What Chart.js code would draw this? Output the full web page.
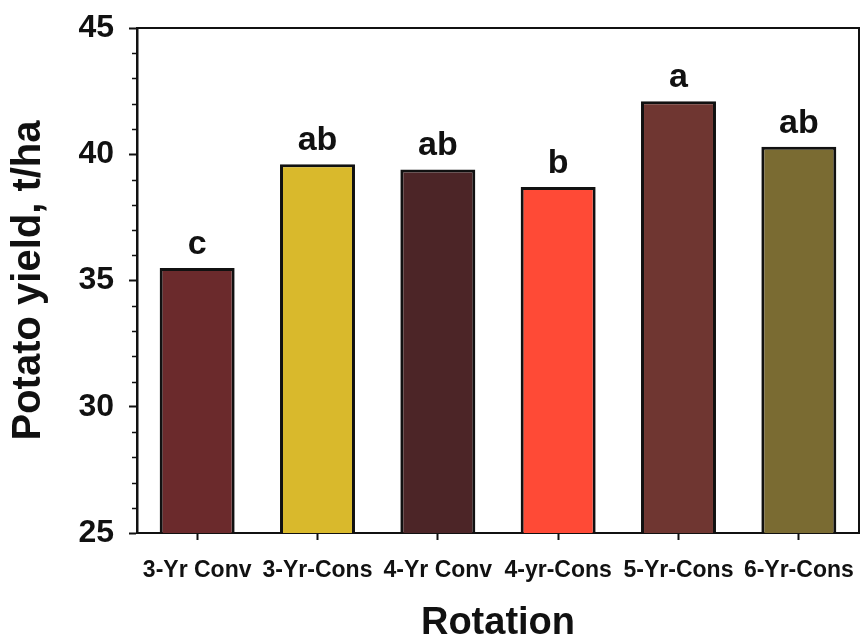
<!DOCTYPE html>
<html>
<head>
<meta charset="utf-8">
<script src="https://cdn.jsdelivr.net/npm/chart.js@4"></script>
<style>
  html, body { margin: 0; padding: 0; background: #ffffff; }
  #wrap { width: 864px; height: 644px; position: relative; }
</style>
</head>
<body>
<div id="wrap"><canvas id="c" width="864" height="644"></canvas></div>
<script>
// Rotation treatments and mean potato yield (t/ha)
const rotations = ['3-Yr Conv', '3-Yr-Cons', '4-Yr Conv', '4-yr-Cons', '5-Yr-Cons', '6-Yr-Cons'];
const yields = [35.5, 39.6, 39.4, 38.7, 42.1, 40.3];
const letters = ['c', 'ab', 'ab', 'b', 'a', 'ab'];
const barColors = ['#6b2a2c', '#d9b92c', '#4c2527', '#ff4a36', '#6f3631', '#7a6b32'];
const yMin = 25, yMax = 45, yMajor = 5, yMinor = 1;

const FONT = '"Liberation Sans", Arial, Helvetica, sans-serif';

// Frame on top/right, minor ticks on the y axis, and significance letters
const extras = {
  id: 'extras',
  afterDraw(chart) {
    const { ctx, chartArea: a, scales } = chart;
    ctx.save();
    ctx.strokeStyle = '#111';
    ctx.lineWidth = 2;
    ctx.beginPath();
    ctx.moveTo(a.left, a.top);
    ctx.lineTo(a.right, a.top);
    ctx.lineTo(a.right, a.bottom);
    ctx.stroke();

    // minor ticks
    const y = scales.y;
    ctx.lineWidth = 1.5;
    ctx.beginPath();
    for (let v = yMin; v <= yMax; v += yMinor) {
      if (v % yMajor === 0) continue;
      const py = Math.round(y.getPixelForValue(v)) + 0.5;
      ctx.moveTo(a.left - 5, py);
      ctx.lineTo(a.left, py);
    }
    ctx.stroke();

    // letters above bars
    const meta = chart.getDatasetMeta(0);
    ctx.fillStyle = '#111';
    ctx.font = 'bold 34px ' + FONT;
    ctx.textAlign = 'center';
    ctx.textBaseline = 'alphabetic';
    meta.data.forEach((bar, i) => {
      ctx.fillText(letters[i], bar.x, bar.y - 14);
    });
    ctx.restore();
  }
};

new Chart(document.getElementById('c'), {
  type: 'bar',
  data: {
    labels: rotations,
    datasets: [{
      data: yields,
      backgroundColor: barColors,
      borderColor: '#111',
      borderWidth: 3,
      borderSkipped: false,
      barPercentage: 0.623,
      categoryPercentage: 1.0
    }]
  },
  options: {
    responsive: false,
    animation: false,
    devicePixelRatio: 1,
    layout: { padding: { top: 28, right: 5, bottom: 0, left: 0 } },
    plugins: { legend: { display: false }, tooltip: { enabled: false } },
    scales: {
      x: {
        afterFit(scale) {
          scale.height = 111;
          scale.paddingLeft = 0;
          scale.paddingRight = 0;
        },
        grid: {
          offset: false,
          drawOnChartArea: false,
          tickLength: 7,
          tickWidth: 2,
          tickColor: '#111'
        },
        border: { display: true, color: '#111', width: 2 },
        ticks: {
          color: '#111',
          padding: 17,
          maxRotation: 0,
          autoSkip: false,
          font: { family: FONT, size: 23, weight: 'bold' }
        },
        title: {
          display: true,
          text: 'Rotation',
          color: '#111',
          padding: { top: 0, bottom: -2 },
          font: { family: FONT, size: 38, weight: 'bold' }
        }
      },
      y: {
        min: yMin,
        max: yMax,
        afterFit(scale) {
          scale.width = 137;
          scale.paddingTop = 0;
          scale.paddingBottom = 0;
        },
        grid: {
          drawOnChartArea: false,
          tickLength: 8,
          tickWidth: 2,
          tickColor: (c) => (c.tick && c.tick.value % yMajor === 0) ? '#111' : 'rgba(0,0,0,0)'
        },
        border: { display: true, color: '#111', width: 2.5 },
        ticks: {
          stepSize: yMinor,
          maxTicksLimit: 50,
          autoSkip: false,
          color: '#111',
          padding: 15,
          font: { family: FONT, size: 32, weight: 'bold' },
          callback: (v) => (v % yMajor === 0 ? String(v) : '')
        },
        title: {
          display: true,
          text: 'Potato yield, t/ha',
          color: '#111',
          padding: { top: 5, bottom: 2 },
          font: { family: FONT, size: 40, weight: 'bold' }
        }
      }
    }
  },
  plugins: [extras]
});
</script>
</body>
</html>
